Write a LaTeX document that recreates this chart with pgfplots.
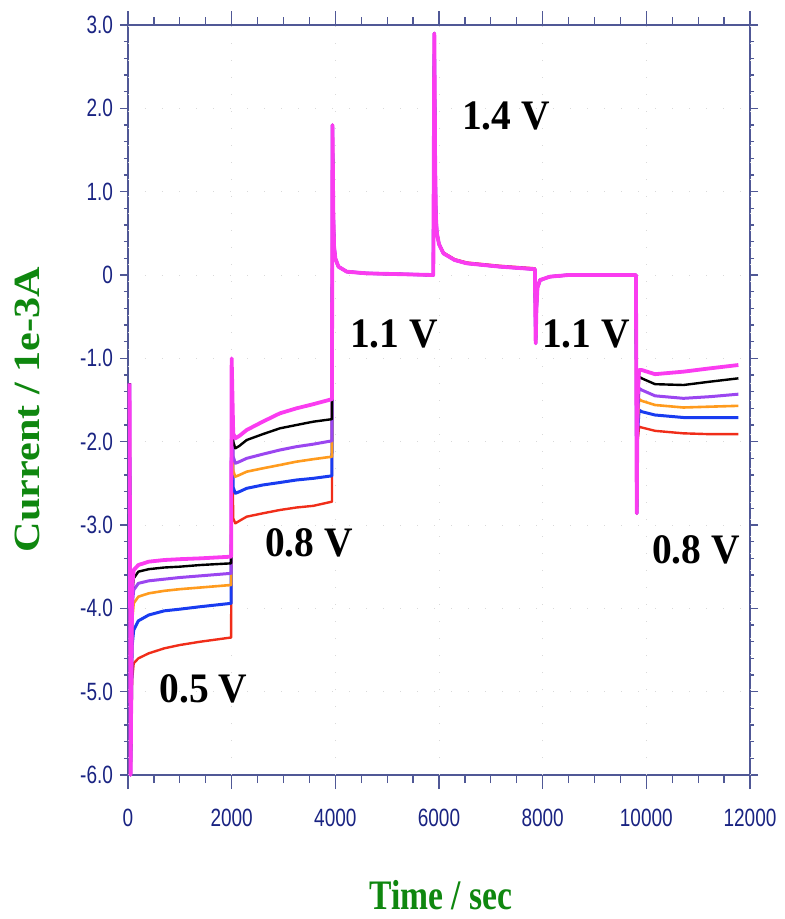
\documentclass[border=0pt]{standalone}
\usepackage{pgfplots}
\pgfplotsset{compat=1.18}
\usepackage{fontspec}
\setmainfont{Liberation Serif}
\newfontfamily\tickfont[FakeStretch=0.76]{Liberation Sans}
\newfontfamily\ylabfont[FakeStretch=1.14]{Liberation Serif}
\newfontfamily\xlabfont[FakeStretch=0.8]{Liberation Serif}
\newfontfamily\annfont[FakeStretch=0.94]{Liberation Serif}
\definecolor{axiscol}{RGB}{80,88,150}
\definecolor{tickcol}{RGB}{25,35,130}
\definecolor{labgreen}{RGB}{15,135,15}
\definecolor{cmag}{RGB}{250,60,240}
\definecolor{cpur}{RGB}{155,70,240}
\definecolor{cora}{RGB}{255,155,30}
\definecolor{cblu}{RGB}{25,60,240}
\definecolor{cred}{RGB}{240,45,25}
\begin{document}
\begin{tikzpicture}
\useasboundingbox (-64pt,-72pt) rectangle (328pt,387.5pt);
\begin{axis}[
  scale only axis, width=311pt, height=375pt,
  xmin=0, xmax=12000, ymin=-6, ymax=3,
  axis line style={color=axiscol, line width=0.6pt},
  scaled x ticks=false, scaled y ticks=false,
  xtick={500,1000,1500,2500,3000,3500,4500,5000,5500,6500,7000,7500,8500,9000,9500,10500,11000,11500},
  xticklabels={},
  extra x ticks={0,2000,4000,6000,8000,10000,12000},
  extra x tick labels={0,2000,4000,6000,8000,10000,12000},
  extra x tick style={major tick length=7pt, xmajorgrids=true,
     xticklabel style={yshift=-6.5pt}},
  ytick={-6,-5,...,3},
  yticklabels={-6.0,-5.0,-4.0,-3.0,-2.0,-1.0,0,1.0,2.0,3.0},
  minor y tick num=4,
  major tick length=4pt, minor tick length=2pt,
  tick align=outside, tick pos=both,
  every tick/.style={color=axiscol, line width=0.6pt},
  ticklabel style={font=\tickfont\fontsize{12.5}{14}\selectfont, text=tickcol},
  ymajorgrids=true, xmajorgrids=false,
  major grid style={color=gray!30, line width=0.4pt, dash pattern=on 0.5pt off 8pt},
  xlabel={Time / sec},
  ylabel={Current / 1e-3A},
  xlabel style={font=\xlabfont\bfseries\fontsize{21}{24}\selectfont, text=labgreen,
    at={(axis description cs:0.503,-0.179)}, anchor=base},
  ylabel style={font=\ylabfont\bfseries\fontsize{18.5}{22}\selectfont, text=labgreen,
    at={(axis description cs:-0.1624,0.487)}, anchor=center},
  clip=false,
  line join=round,
]
% red
\addplot[color=cred, line width=1.2pt] coordinates {
(30,-1.3)(50,-6.0)(80,-4.85)(110,-4.66)(200,-4.60)(400,-4.54)(700,-4.48)(1000,-4.44)(1400,-4.40)(1990,-4.35)
(2000,-1.5)(2030,-2.92)(2070,-2.98)(2150,-2.95)(2290,-2.90)(2600,-2.86)(2930,-2.82)(3250,-2.79)(3575,-2.77)(3935,-2.72)
(3945,1.8)(3960,0.8)(3975,0.35)(4000,0.2)(4060,0.10)(4220,0.04)(4600,0.02)(5890,0.0)
(5910,2.9)(5925,1.4)(5940,0.7)(5960,0.5)(6000,0.37)(6085,0.27)(6300,0.19)(6535,0.15)(7177,0.11)(7850,0.08)
(7865,-0.82)(7880,-0.4)(7900,-0.15)(7950,-0.06)(8140,-0.02)(8500,0.0)(9800,0.0)
(9815,-2.86)(9830,-2.0)(9860,-1.82)(9911,-1.83)(10168,-1.87)(10715,-1.90)(11229,-1.91)(11776,-1.91)
};
% blue
\addplot[color=cblu, line width=1.5pt] coordinates {
(30,-1.3)(50,-6.0)(80,-4.45)(110,-4.26)(200,-4.15)(400,-4.08)(700,-4.03)(1000,-4.01)(1400,-3.98)(1990,-3.94)
(2000,-1.35)(2030,-2.55)(2070,-2.62)(2150,-2.60)(2290,-2.56)(2600,-2.52)(2930,-2.49)(3250,-2.46)(3575,-2.44)(3935,-2.41)
(3945,1.8)(3960,0.8)(3975,0.35)(4000,0.2)(4060,0.10)(4220,0.04)(4600,0.02)(5890,0.0)
(5910,2.9)(5925,1.4)(5940,0.7)(5960,0.5)(6000,0.37)(6085,0.26)(6300,0.18)(6535,0.14)(7177,0.10)(7850,0.07)
(7865,-0.82)(7880,-0.4)(7900,-0.15)(7950,-0.06)(8140,-0.02)(8500,0.0)(9800,0.0)
(9815,-2.86)(9830,-1.9)(9860,-1.62)(9911,-1.64)(10168,-1.68)(10715,-1.71)(11229,-1.71)(11776,-1.71)
};
% orange
\addplot[color=cora, line width=1.3pt] coordinates {
(30,-1.3)(50,-6.0)(80,-4.15)(110,-3.94)(200,-3.86)(400,-3.82)(700,-3.79)(1000,-3.77)(1400,-3.75)(1990,-3.72)
(2000,-1.3)(2030,-2.35)(2070,-2.42)(2150,-2.40)(2290,-2.36)(2600,-2.32)(2930,-2.28)(3250,-2.24)(3575,-2.21)(3935,-2.18)
(3945,1.8)(3960,0.8)(3975,0.35)(4000,0.2)(4060,0.10)(4220,0.04)(4600,0.02)(5890,0.0)
(5910,2.9)(5925,1.4)(5940,0.7)(5960,0.5)(6000,0.37)(6085,0.26)(6300,0.18)(6535,0.14)(7177,0.10)(7850,0.07)
(7865,-0.82)(7880,-0.4)(7900,-0.15)(7950,-0.06)(8140,-0.02)(8500,0.0)(9800,0.0)
(9815,-2.86)(9830,-1.8)(9860,-1.49)(9911,-1.51)(10168,-1.56)(10715,-1.59)(11229,-1.58)(11776,-1.57)
};
% purple
\addplot[color=cpur, line width=1.5pt] coordinates {
(30,-1.3)(50,-6.0)(80,-3.98)(110,-3.78)(200,-3.70)(400,-3.67)(700,-3.65)(1000,-3.63)(1400,-3.61)(1990,-3.58)
(2000,-1.2)(2030,-2.18)(2070,-2.26)(2150,-2.24)(2290,-2.20)(2600,-2.15)(2930,-2.10)(3250,-2.06)(3575,-2.03)(3935,-1.99)
(3945,1.8)(3960,0.8)(3975,0.35)(4000,0.2)(4060,0.10)(4220,0.04)(4600,0.02)(5890,0.0)
(5910,2.9)(5925,1.4)(5940,0.7)(5960,0.5)(6000,0.37)(6085,0.26)(6300,0.18)(6535,0.14)(7177,0.10)(7850,0.07)
(7865,-0.82)(7880,-0.4)(7900,-0.15)(7950,-0.06)(8140,-0.02)(8500,0.0)(9800,0.0)
(9815,-2.86)(9830,-1.7)(9860,-1.36)(9911,-1.38)(10168,-1.45)(10715,-1.48)(11229,-1.46)(11776,-1.43)
};
% black
\addplot[color=black, line width=1.2pt] coordinates {
(30,-1.3)(50,-6.0)(80,-3.84)(110,-3.64)(200,-3.56)(400,-3.53)(700,-3.51)(1000,-3.50)(1400,-3.48)(1990,-3.46)
(2000,-1.15)(2030,-2.00)(2070,-2.08)(2150,-2.05)(2290,-1.98)(2600,-1.91)(2930,-1.84)(3250,-1.80)(3575,-1.76)(3935,-1.73)
(3945,1.8)(3960,0.8)(3975,0.35)(4000,0.2)(4060,0.10)(4220,0.04)(4600,0.02)(5890,0.0)
(5910,2.9)(5925,1.4)(5940,0.7)(5960,0.5)(6000,0.37)(6085,0.26)(6300,0.18)(6535,0.14)(7177,0.10)(7850,0.07)
(7865,-0.82)(7880,-0.4)(7900,-0.15)(7950,-0.06)(8140,-0.02)(8500,0.0)(9800,0.0)
(9815,-2.86)(9830,-1.6)(9860,-1.22)(9911,-1.24)(10168,-1.31)(10715,-1.32)(11229,-1.28)(11776,-1.24)
};
% magenta
\addplot[color=cmag, line width=1.9pt] coordinates {
(30,-1.3)(50,-6.0)(80,-3.75)(110,-3.54)(200,-3.48)(400,-3.44)(700,-3.42)(1000,-3.41)(1400,-3.40)(1990,-3.38)
(2000,-1.0)(2030,-1.90)(2070,-1.96)(2150,-1.93)(2290,-1.86)(2600,-1.76)(2930,-1.66)(3250,-1.60)(3575,-1.55)(3935,-1.49)
(3945,1.8)(3960,0.8)(3975,0.35)(4000,0.2)(4060,0.10)(4220,0.04)(4600,0.02)(5890,0.0)
(5910,2.9)(5925,1.4)(5940,0.7)(5960,0.5)(6000,0.37)(6085,0.26)(6300,0.18)(6535,0.14)(7177,0.10)(7850,0.07)
(7865,-0.82)(7880,-0.4)(7900,-0.15)(7950,-0.06)(8140,-0.02)(8500,0.0)(9800,0.0)
(9815,-2.86)(9830,-1.5)(9860,-1.14)(9911,-1.14)(10168,-1.19)(10715,-1.16)(11229,-1.12)(11776,-1.08)
};
\begin{scope}[every node/.style={font=\annfont\bfseries\fontsize{21}{24}\selectfont, anchor=base, inner sep=0pt}]
\node at (axis cs:7293,1.752) {1.4 V};
\node at (axis cs:5132,-0.864) {1.1 V};
\node at (axis cs:8837,-0.864) {1.1 V};
\node at (axis cs:3492,-3.372) {0.8 V};
\node at (axis cs:1457,-5.124) {0.5 V};
\node at (axis cs:10959,-3.456) {0.8 V};
\end{scope}
\end{axis}
\end{tikzpicture}
\end{document}
